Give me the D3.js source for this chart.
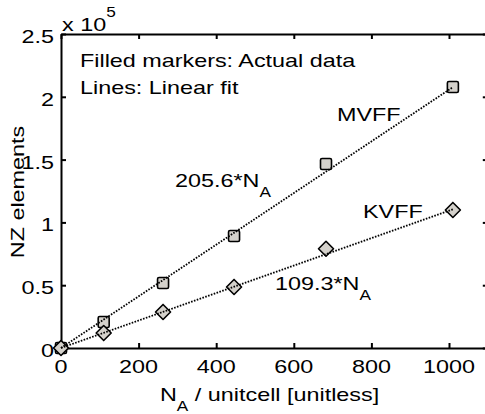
<!DOCTYPE html>
<html>
<head>
<meta charset="utf-8">
<script src="https://cdn.jsdelivr.net/npm/d3@7"></script>
<style>
  html, body { margin: 0; padding: 0; background: #fff; }
  svg { display: block; }
</style>
</head>
<body>
<svg id="chart" width="485" height="414"></svg>
<script>
// Atoms per unit cell and the non-zero element counts of each force-field matrix
const nA = [0, 110, 263, 446, 683, 1010];
const mvff = [0, 20700, 51700, 89200, 146500, 207800];
const kvff = [0, 11900, 28700, 48600, 79000, 109900];
// Linear-fit slopes (NZ elements per atom)
const slopeMVFF = 205.6;
const slopeKVFF = 109.3;
const xTicks = [0, 200, 400, 600, 800, 1000];
const yTicks = [0, 50000, 100000, 150000, 200000, 250000];
const yExponent = 5;

const svg = d3.select("#chart");
const FONT = "'Liberation Sans', Arial, Helvetica, sans-serif";
const SX = 1.23;           // horizontal stretch of the lettering
const FS = 19;

const x = d3.scaleLinear().domain([0, 1100]).range([61, 487.8]);
const y = d3.scaleLinear().domain([0, 250000]).range([348, 34]);

// Writes a (possibly multi-part) label; parts may be lowered as subscripts
// or raised as superscripts.
function label(px, py, parts, opts = {}) {
  const t = svg.append("text")
    .attr("transform", `translate(${px},${py}) ${opts.rotate ? "rotate(-90)" : ""} scale(${SX},1)`)
    .attr("font-family", FONT)
    .attr("font-size", opts.size || FS)
    .attr("fill", "#000")
    .attr("text-anchor", opts.anchor || "start");
  let shift = 0;
  (Array.isArray(parts) ? parts : [[parts]]).forEach(p => {
    const [txt, kind] = p;
    const want = kind === "sub" ? 10 : kind === "sup" ? -14 : 0;
    const s = t.append("tspan").text(txt).attr("dy", want - shift);
    if (kind) s.attr("font-size", 14);
    shift = want;
  });
  return t;
}

// Axes: inward ticks on all four sides, heavy frame
const axisStyle = g => {
  g.selectAll("path.domain").attr("stroke", "#000").attr("stroke-width", 2);
  g.selectAll(".tick line").attr("stroke", "#000").attr("stroke-width", 2);
  g.selectAll(".tick text").remove();
};
svg.append("g").attr("transform", `translate(0,${y(0)})`)
  .call(d3.axisBottom(x).tickValues(xTicks).tickSizeInner(-5).tickSizeOuter(0)).call(axisStyle);
svg.append("g").attr("transform", `translate(0,${y(250000)})`)
  .call(d3.axisTop(x).tickValues(xTicks).tickSizeInner(-5).tickSizeOuter(0)).call(axisStyle);
svg.append("g").attr("transform", `translate(${x(0)},0)`)
  .call(d3.axisLeft(y).tickValues(yTicks).tickSizeInner(-5).tickSizeOuter(0)).call(axisStyle);
svg.append("g").attr("transform", `translate(${x(1100)},0)`)
  .call(d3.axisRight(y).tickValues(yTicks).tickSizeInner(-5).tickSizeOuter(0)).call(axisStyle);

// Tick labels
xTicks.forEach(v => label(x(v), 373, String(v), { anchor: "middle" }));
yTicks.forEach(v => label(54, y(v) + 9, d3.format("")(v / Math.pow(10, yExponent)), { anchor: "end" }));
label(62, 31, [["x 10"], ["" + yExponent, "sup"]]);

// Measured data markers
const fillC = "#d4d1cb";
const sq = 11;
svg.append("g").selectAll("rect").data(nA.map((n, i) => [n, mvff[i]])).join("rect")
  .attr("x", d => x(d[0]) - sq / 2).attr("y", d => y(d[1]) - sq / 2)
  .attr("width", sq).attr("height", sq).attr("rx", 1.5)
  .attr("fill", fillC).attr("stroke", "#000").attr("stroke-width", 1.6);
const dm = 7.5;
svg.append("g").selectAll("path").data(nA.map((n, i) => [n, kvff[i]])).join("path")
  .attr("d", d => `M${x(d[0])},${y(d[1]) - dm}L${x(d[0]) + dm},${y(d[1])}L${x(d[0])},${y(d[1]) + dm}L${x(d[0]) - dm},${y(d[1])}Z`)
  .attr("fill", fillC).attr("stroke", "#000").attr("stroke-width", 1.6).attr("stroke-linejoin", "round");

// Linear fits through the origin
const xMax = d3.max(nA);
const fitLine = slope => d3.line().x(d => x(d)).y(d => y(slope * d))([0, xMax]);
[slopeMVFF, slopeKVFF].forEach(s => {
  svg.append("path").attr("d", fitLine(s)).attr("fill", "none")
    .attr("stroke", "#000").attr("stroke-width", 1.8).attr("stroke-dasharray", "1.6,1.4");
});

// Annotations
label(80, 67, "Filled markers: Actual data");
label(80, 94, "Lines: Linear fit");
label(337, 121, "MVFF");
label(363, 218, "KVFF");
label(175, 187, [[slopeMVFF.toFixed(1) + "*N"], ["A", "sub"]]);
label(275, 290, [[slopeKVFF.toFixed(1) + "*N"], ["A", "sub"]]);

// Axis titles
label(160, 401, [["N"], ["A", "sub"], [" / unitcell [unitless]"]]);
label(24, 192, "NZ elements", { rotate: true, anchor: "middle" });
</script>
</body>
</html>
